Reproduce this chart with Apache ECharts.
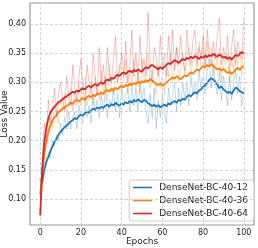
<!DOCTYPE html>
<html><head><meta charset="utf-8">
<script src="https://cdn.jsdelivr.net/npm/echarts@6/dist/echarts.min.js"></script>
<style>html,body{margin:0;padding:0;background:#fff}#c{width:258px;height:248px}</style>
</head><body><div id="c"></div>
<script>
const seriesNames = ["DenseNet-BC-40-12", "DenseNet-BC-40-36", "DenseNet-BC-40-64"];
const xTicks = [0, 20, 40, 60, 80, 100];
const yTicks = [0.10, 0.15, 0.20, 0.25, 0.30, 0.35, 0.40];

const blueMean = [0.135,0.128,0.150,0.163,0.172,0.182,0.190,0.198,0.203,0.210,0.215,
0.219,0.223,0.226,0.229,0.233,0.235,0.239,0.237,0.242,0.245,
0.243,0.247,0.250,0.248,0.252,0.255,0.253,0.257,0.255,0.258,
0.256,0.260,0.262,0.258,0.263,0.260,0.265,0.262,0.260,0.264,
0.262,0.266,0.264,0.268,0.265,0.270,0.267,0.271,0.268,0.266,
0.270,0.268,0.264,0.262,0.259,0.262,0.258,0.261,0.257,0.260,
0.262,0.259,0.264,0.262,0.266,0.268,0.265,0.270,0.268,0.272,
0.270,0.275,0.278,0.276,0.280,0.283,0.281,0.286,0.288,0.292,
0.295,0.299,0.304,0.307,0.305,0.301,0.296,0.290,0.293,0.288,
0.285,0.282,0.284,0.280,0.286,0.291,0.289,0.285,0.283,0.281];
const orangeMean = [0.107,0.145,0.178,0.198,0.215,0.226,0.234,0.240,0.244,0.249,0.252,
0.255,0.257,0.260,0.262,0.265,0.263,0.268,0.270,0.267,0.271,
0.273,0.270,0.275,0.277,0.274,0.279,0.276,0.281,0.279,0.283,
0.280,0.285,0.287,0.284,0.289,0.286,0.291,0.288,0.292,0.294,
0.291,0.296,0.293,0.298,0.295,0.299,0.297,0.301,0.298,0.302,
0.300,0.304,0.301,0.306,0.303,0.300,0.297,0.295,0.298,0.294,
0.297,0.300,0.303,0.306,0.309,0.306,0.311,0.308,0.305,0.309,
0.312,0.310,0.314,0.317,0.315,0.319,0.322,0.320,0.325,0.328,
0.326,0.330,0.327,0.331,0.328,0.325,0.322,0.324,0.320,0.323,
0.319,0.316,0.318,0.314,0.318,0.322,0.325,0.321,0.326,0.328];
const redMean = [0.072,0.150,0.198,0.222,0.238,0.248,0.254,0.258,0.262,0.266,0.268,
0.271,0.274,0.276,0.279,0.281,0.284,0.282,0.286,0.284,0.288,
0.290,0.288,0.292,0.294,0.291,0.295,0.297,0.294,0.298,0.300,
0.297,0.302,0.305,0.303,0.308,0.306,0.310,0.313,0.311,0.315,
0.317,0.314,0.318,0.320,0.317,0.321,0.319,0.322,0.320,0.318,
0.323,0.326,0.324,0.328,0.330,0.327,0.325,0.322,0.326,0.323,
0.327,0.330,0.333,0.331,0.335,0.338,0.336,0.333,0.337,0.340,
0.338,0.342,0.340,0.344,0.341,0.345,0.343,0.340,0.344,0.342,
0.346,0.343,0.347,0.345,0.349,0.346,0.344,0.348,0.345,0.342,
0.344,0.340,0.343,0.339,0.343,0.347,0.345,0.349,0.352,0.350];

const blueRaw = [0.13,0.12,0.16,0.17,0.18,0.17,0.20,0.19,0.21,0.20,0.23,
0.21,0.24,0.22,0.25,0.22,0.24,0.25,0.22,0.26,0.24,
0.23,0.27,0.24,0.26,0.23,0.28,0.25,0.27,0.24,0.28,
0.25,0.29,0.24,0.27,0.26,0.29,0.25,0.28,0.24,0.29,
0.26,0.28,0.29,0.25,0.30,0.26,0.29,0.25,0.30,0.27,
0.29,0.25,0.23,0.28,0.24,0.29,0.22,0.27,0.24,0.28,
0.25,0.23,0.29,0.26,0.28,0.30,0.25,0.29,0.26,0.30,
0.27,0.30,0.26,0.31,0.28,0.30,0.27,0.32,0.29,0.31,
0.28,0.32,0.34,0.29,0.33,0.30,0.28,0.32,0.27,0.31,
0.29,0.26,0.31,0.27,0.30,0.32,0.28,0.31,0.26,0.29];
const orangeRaw = [0.10,0.16,0.20,0.21,0.22,0.24,0.22,0.26,0.25,0.23,0.27,
0.25,0.28,0.24,0.27,0.29,0.25,0.28,0.26,0.30,0.26,
0.29,0.31,0.26,0.28,0.30,0.26,0.31,0.28,0.27,0.32,
0.28,0.31,0.27,0.33,0.29,0.28,0.32,0.30,0.33,0.28,
0.31,0.34,0.28,0.32,0.30,0.34,0.29,0.32,0.28,0.34,
0.30,0.33,0.35,0.29,0.32,0.30,0.28,0.33,0.29,0.31,
0.28,0.33,0.31,0.35,0.30,0.33,0.36,0.30,0.33,0.35,
0.31,0.34,0.36,0.31,0.34,0.35,0.32,0.37,0.33,0.36,
0.32,0.37,0.34,0.36,0.31,0.35,0.33,0.36,0.30,0.34,
0.33,0.35,0.30,0.34,0.32,0.36,0.33,0.35,0.31,0.37];
const redRaw = [0.07,0.16,0.23,0.20,0.27,0.23,0.25,0.29,0.24,0.28,0.30,
0.27,0.25,0.31,0.28,0.26,0.33,0.29,0.27,0.31,0.34,
0.29,0.27,0.33,0.30,0.28,0.35,0.31,0.28,0.36,0.30,
0.33,0.29,0.36,0.31,0.30,0.34,0.38,0.30,0.32,0.35,
0.31,0.37,0.30,0.33,0.39,0.31,0.35,0.30,0.38,0.32,
0.34,0.31,0.42,0.33,0.30,0.36,0.34,0.31,0.38,0.32,
0.35,0.31,0.38,0.33,0.39,0.32,0.36,0.33,0.38,0.34,
0.32,0.39,0.35,0.33,0.37,0.39,0.33,0.36,0.34,0.38,
0.33,0.39,0.35,0.33,0.37,0.34,0.38,0.41,0.33,0.36,
0.34,0.38,0.32,0.36,0.39,0.33,0.37,0.35,0.34,0.41];

const colors = ['#1f77b4', '#ff7f0e', '#d62728'];
const means = [blueMean, orangeMean, redMean];
const raws = [blueRaw, orangeRaw, redRaw];
const pairs = a => a.map((v, i) => [i, v]);

const series = [];
for (let k = 0; k < 3; k++) {
  series.push({
    type: 'line', name: seriesNames[k] + ' raw', data: pairs(raws[k]), symbol: 'none',
    lineStyle: { color: colors[k], width: 1, opacity: 0.28 }, itemStyle: { color: colors[k] },
    silent: true, z: 2 + k * 2
  });
  series.push({
    type: 'line', name: seriesNames[k], data: pairs(means[k]), symbol: 'none',
    lineStyle: { color: colors[k], width: 1.8 }, itemStyle: { color: colors[k] },
    z: 3 + k * 2
  });
}
series.push({
  type: 'line', data: [], silent: true, z: 1,
  markLine: {
    symbol: 'none', silent: true, label: { show: false },
    lineStyle: { color: '#c8c8c8', type: [3, 2], width: 0.8 },
    data: xTicks.map(v => ({ xAxis: v })).concat(yTicks.map(v => ({ yAxis: v })))
  }
});

const chart = echarts.init(document.getElementById('c'), null, { renderer: 'canvas' });
chart.setOption({
  animation: false,
  backgroundColor: '#fff',
  grid: { left: 30, right: 4, top: 3, bottom: 23, containLabel: false, outerBoundsMode: 'none',
    show: true, borderColor: '#999', borderWidth: 1.2, backgroundColor: '#fff' },
  xAxis: {
    type: 'value', min: -5, max: 105,
    name: 'Epochs', nameLocation: 'middle', nameGap: 12, nameMoveOverlap: false,
    nameTextStyle: { fontFamily: 'DejaVu Sans', fontSize: 9, color: '#222' },
    axisLine: { show: false }, axisTick: { show: false }, splitLine: { show: false },
    axisLabel: { customValues: xTicks, fontFamily: 'DejaVu Sans', fontSize: 8, color: '#222', margin: 4 }
  },
  yAxis: {
    type: 'value', min: 0.0555, max: 0.436,
    name: 'Loss Value', nameLocation: 'middle', nameGap: 21, nameMoveOverlap: false,
    nameTextStyle: { fontFamily: 'DejaVu Sans', fontSize: 9, color: '#222' },
    axisLine: { show: false }, axisTick: { show: false }, splitLine: { show: false },
    axisLabel: { customValues: yTicks, formatter: v => v.toFixed(2), fontFamily: 'DejaVu Sans', fontSize: 8, color: '#222', margin: 4 }
  },
  legend: {
    data: seriesNames, orient: 'vertical', right: 4, bottom: 27,
    icon: 'rect', itemWidth: 19, itemHeight: 1.6,
    backgroundColor: 'rgba(255,255,255,0.85)', borderColor: '#ccc', borderWidth: 1, borderRadius: 3,
    padding: [2, 6, 2, 4], itemGap: 2,
    textStyle: { fontFamily: 'DejaVu Sans', fontSize: 9, color: '#222', padding: [0, 0, 0, 2], lineHeight: 11 }
  },
  series: series
});
</script></body></html>
